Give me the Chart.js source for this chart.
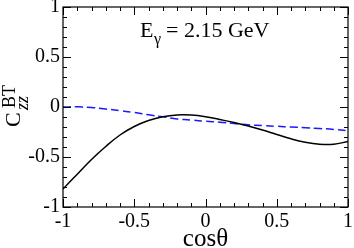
<!DOCTYPE html>
<html>
<head>
<meta charset="utf-8">
<script src="https://cdn.jsdelivr.net/npm/chart.js@4/dist/chart.umd.min.js"></script>
<style>
  html, body { margin: 0; padding: 0; background: #fff; }
  #wrap { width: 354px; height: 248px; }
</style>
</head>
<body>
<div id="wrap"><canvas id="c" width="354" height="248"></canvas></div>
<script>
const cosTheta = [-1, -0.9, -0.8, -0.7, -0.6, -0.5, -0.4, -0.3, -0.2, -0.1, 0, 0.1, 0.2, 0.3, 0.4, 0.5, 0.6, 0.7, 0.8, 0.9, 1.0];
const solidCurve = [-0.82, -0.672, -0.525, -0.395, -0.28, -0.195, -0.135, -0.097, -0.079, -0.080, -0.097, -0.125, -0.155, -0.19, -0.23, -0.275, -0.318, -0.352, -0.372, -0.372, -0.345];
const dashedCurve = [0.0, 0.002, -0.005, -0.02, -0.037, -0.055, -0.078, -0.098, -0.119, -0.131, -0.142, -0.152, -0.165, -0.178, -0.186, -0.193, -0.200, -0.207, -0.215, -0.224, -0.237];
const tickValues = [-1, -0.5, 0, 0.5, 1];
const xTitle = 'cosθ';
const yTitleMain = 'C', yTitleSup = 'BT', yTitleSub = 'zz';
const annotationMain = 'E', annotationSub = 'γ', annotationRest = '= 2.15 GeV';

const SERIF = '"Liberation Serif", "Times New Roman", serif';

const framePlugin = {
  id: 'frame',
  afterDraw(chart) {
    const ctx = chart.ctx;
    const a = chart.chartArea;
    const xs = chart.scales.x, ys = chart.scales.y;
    ctx.save();
    ctx.strokeStyle = '#000';
    ctx.lineWidth = 1.2;
    ctx.strokeRect(a.left, a.top, a.right - a.left, a.bottom - a.top);
    ctx.lineWidth = 1;
    for (let i = -10; i <= 10; i++) {
      const v = i / 10;
      const len = (i % 5 === 0) ? 8 : 4;
      const px = Math.round(xs.getPixelForValue(v)) + 0.5;
      const py = Math.round(ys.getPixelForValue(v)) + 0.5;
      ctx.beginPath();
      ctx.moveTo(px, a.bottom); ctx.lineTo(px, a.bottom - len);
      ctx.moveTo(px, a.top); ctx.lineTo(px, a.top + len);
      ctx.moveTo(a.left, py); ctx.lineTo(a.left + len, py);
      ctx.moveTo(a.right, py); ctx.lineTo(a.right - len, py);
      ctx.stroke();
    }
    // y-axis title with superscript/subscript
    ctx.fillStyle = '#000';
    ctx.textBaseline = 'alphabetic';
    ctx.textAlign = 'left';
    ctx.save();
    ctx.translate(20, 127);
    ctx.rotate(-Math.PI / 2);
    ctx.font = '22px ' + SERIF;
    ctx.fillText(yTitleMain, 0, 0);
    ctx.font = '18px ' + SERIF;
    ctx.fillText(yTitleSup, 19, -5);
    ctx.font = 'italic 18px ' + SERIF;
    ctx.fillText(yTitleSub, 17, 8);
    ctx.restore();
    // annotation
    ctx.font = '22px ' + SERIF;
    ctx.fillText(annotationMain, 140, 37);
    ctx.font = '16px ' + SERIF;
    ctx.fillText(annotationSub, 154, 44);
    ctx.font = '22px ' + SERIF;
    ctx.fillText(annotationRest, 166, 37);
    ctx.restore();
  }
};

const fmt = v => {
  const r = Math.round(v * 10) / 10;
  return tickValues.includes(r) ? String(r) : '';
};

new Chart(document.getElementById('c'), {
  type: 'line',
  data: {
    datasets: [
      {
        data: cosTheta.map((x, i) => ({ x, y: solidCurve[i] })),
        borderColor: '#000000',
        borderWidth: 1.5,
        pointRadius: 0,
        tension: 0.4,
        fill: false
      },
      {
        data: cosTheta.map((x, i) => ({ x, y: dashedCurve[i] })),
        borderColor: '#1a1aff',
        borderWidth: 1.5,
        borderDash: [8, 4],
        pointRadius: 0,
        tension: 0.4,
        fill: false
      }
    ]
  },
  options: {
    responsive: false,
    devicePixelRatio: 1,
    animation: false,
    layout: { padding: { top: 7, right: 6, left: 0, bottom: 0 } },
    plugins: { legend: { display: false }, tooltip: { enabled: false } },
    scales: {
      x: {
        type: 'linear', min: -1, max: 1,
        grid: { display: false, drawTicks: false, tickLength: 0 },
        border: { display: false },
        ticks: { stepSize: 0.5, callback: fmt, color: '#000', padding: 3, maxRotation: 0, autoSkip: false,
                 font: { family: SERIF, size: 20 } },
        title: { display: true, text: xTitle, color: '#000', font: { family: SERIF, size: 25, lineHeight: 1 },
                 padding: { top: 0, bottom: -4 } },
        afterFit(s) { s.height = 41; s.paddingLeft = 0; s.paddingRight = 0; }
      },
      y: {
        type: 'linear', min: -1, max: 1,
        grid: { display: false, drawTicks: false, tickLength: 0 },
        border: { display: false },
        ticks: { stepSize: 0.5, callback: fmt, color: '#000', padding: 3, autoSkip: false,
                 font: { family: SERIF, size: 20 } },
        afterFit(s) { s.width = 63; s.paddingTop = 0; s.paddingBottom = 0; }
      }
    }
  },
  plugins: [framePlugin]
});
</script>
</body>
</html>
